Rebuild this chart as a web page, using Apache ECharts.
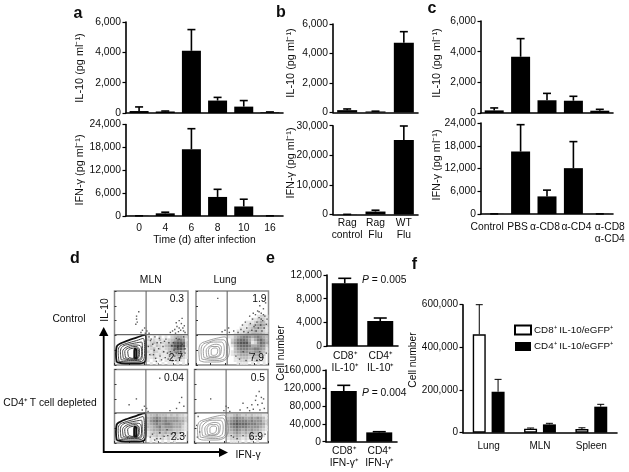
<!DOCTYPE html>
<html><head><meta charset="utf-8">
<style>html,body{margin:0;padding:0;background:#fff}#c{width:629px;height:472px}</style>
<script src="https://cdn.jsdelivr.net/npm/echarts@6/dist/echarts.min.js"></script>
</head><body><div id="c"></div>
<script>
// ---- data ----
const timeCats = ['0','4','6','8','10','16'];
const aIl10 = [130,100,4100,820,420,40];
const aIl10Top = [400,130,5500,1030,820,70];
const aIfn = [50,700,17500,5000,2500,30];
const aIfnTop = [50,1000,22900,7000,4400,50];
const bCats = ['Rag\ncontrol','Rag\nFlu','WT\nFlu'];
const bIl10 = [160,70,4730];
const bIl10Top = [240,90,5480];
const bIfn = [50,1000,25150];
const bIfnTop = [50,1450,29900];
const cCats = ['Control','PBS','α-CD8','α-CD4','α-CD8\nα-CD4'];
const cLabelPadLeft = [0,0,0,6,20];
const cLabelPadRight = [14,6,4,0,0];
const cIl10 = [170,3670,830,800,150];
const cIl10Top = [330,4850,1280,1090,240];
const cIfn = [30,16470,4640,12090,30];
const cIfnTop = [30,23560,6300,19090,30];
const eTopCats = ['CD8⁺\nIL-10⁺','CD4⁺\nIL-10⁺'];
const eTop = [10590,4225];
const eTopErr = [11440,4730];
const eBotCats = ['CD8⁺\nIFN-γ⁺','CD4⁺\nIFN-γ⁺'];
const eBot = [113100,20800];
const eBotErr = [125800,22300];
const fCats = ['Lung','MLN','Spleen'];
const fCd8 = [461000,19000,17000];
const fCd8Top = [600000,22000,23000];
const fCd4 = [192000,39000,122000];
const fCd4Top = [250000,44000,133000];
const fNames = ['CD8⁺ IL-10/eGFP⁺','CD4⁺ IL-10/eGFP⁺'];
const gateMln = [43,41];
const gateLung = [43,41];
// flow panels: x,y in percent of the panel
const mlnRing1 = [[3,4],[2,15],[3,25],[8,29],[18,33],[30,37],[42,41],[43,30],[43,15],[41,4],[30,2],[15,2],[3,4]];
const mlnRing2 = [[6,5],[5,17],[7,25],[16,29],[30,33],[39,36],[41,20],[39,6],[25,4],[6,5]];
const mlnRing3 = [[9,7],[8,18],[11,25],[20,28],[30,30],[37,31],[38,18],[36,7],[24,6],[9,7]];
const mlnRing4 = [[12,9],[11,18],[16,24],[28,27],[36,25],[37,15],[34,8],[22,7],[12,9]];
const mlnRing5 = [[15,10],[14,18],[19,23],[29,25],[34,20],[33,10],[23,8],[15,10]];
const mlnRing6 = [[19,11],[18,18],[22,22],[30,23],[33,16],[31,10],[24,9],[19,11]];
const mlnCore = [[27,9],[27,18],[28,22],[30,20],[30,9],[27,9]];
const lungRing1 = [[5,6],[4,18],[6,28],[14,32],[28,36],[40,38],[44,30],[46,20],[42,8],[28,4],[12,4],[5,6]];
const lungRing2 = [[8,8],[7,18],[9,27],[18,31],[30,34],[38,34],[42,26],[42,16],[39,8],[25,6],[8,8]];
const lungRing3 = [[11,10],[10,18],[13,26],[24,31],[35,31],[39,22],[36,10],[22,8],[11,10]];
const lungRing4 = [[15,11],[14,19],[18,25],[28,28],[35,24],[33,13],[22,10],[15,11]];
const lungRing5 = [[18,12],[17,19],[22,25],[30,25],[33,19],[31,13],[23,11],[18,12]];
const lungRing6 = [[21,14],[21,20],[26,23],[30,21],[29,15],[24,13],[21,14]];
const mlnCtrlDots = [[88,60],[91,56],[85,52],[93,50],[82,48],[90,47],[95,53],[87,45],[84,57],[92,63],[79,46],[96,44],[88,50],[76,44],[83,43],[94,46],[30,62],[30,66],[31,58],[29,55],[41,50],[38,47],[44,46],[36,44],[42,43],[47,43],[33,72],[50,35],[54,20],[58,30],[62,12],[66,25],[70,35],[73,8],[76,18],[80,30],[82,12],[86,24],[88,35],[90,18],[92,28],[94,38],[96,22],[84,36],[78,26],[72,16],[68,32],[64,7],[60,22],[56,9],[52,28],[48,14],[47,38],[55,38],[61,36],[67,18],[74,30],[81,20],[46,25],[49,33],[53,14],[57,5],[63,30],[69,10],[75,12],[79,6],[84,16],[88,10],[92,12],[96,16]];
const lungCtrlDots = [[52,46],[58,44],[62,48],[66,45],[70,50],[72,44],[75,56],[77,47],[78,62],[80,52],[82,68],[83,46],[84,58],[85,73],[86,50],[87,64],[88,80],[89,54],[90,70],[91,46],[92,60],[93,76],[94,50],[95,66],[96,84],[97,55],[98,62],[79,70],[74,66],[68,58],[64,54],[90,62],[87,72],[93,68],[82,54],[30,90],[40,47],[46,44],[36,45],[45,50],[55,12],[60,8],[65,18],[69,6],[74,16],[78,10],[84,6],[88,18],[92,10],[97,16]];
const mlnDepDots = [[30,60],[44,47],[41,50],[38,45],[46,43],[89,55],[92,62],[85,47],[95,50],[62,88],[20,52],[76,44],[52,12],[58,6],[62,14],[68,9],[72,18],[78,12],[84,7],[90,14],[97,10],[49,8],[55,4],[63,6],[73,10],[83,14],[91,10]];
const lungDepDots = [[88,70],[91,62],[83,58],[78,52],[86,52],[92,54],[95,47],[72,48],[80,46],[89,45],[66,54],[75,44],[84,64],[62,45],[94,60],[22,60],[46,48],[43,50],[40,44],[48,43],[5,36],[3,24],[7,15],[4,8],[50,10],[58,6],[66,10],[76,6],[84,9],[96,12],[89,8],[53,8]];
// density of events, one string per 4% band, top band first, one digit per 4% column from x = 44%
const mlnCtrlDensity = ["10102010234432","21213112346651","12321223478872","23132134689982","12312123478861","21321213456541","12212112334431","11211112223321","10101011212110","01010101101010"];
const lungCtrlDensity = ["00000000001221","00000000112321","00000011123431","00000112234542","00001112344431","00011223343321","00112233444432","11345665456543","02467764246753","03578885125764","01467776445652","00356665566541","01345554455431","01234443344320","00123332233210","00112221122110","00011110101010"];
const mlnDepDensity = ["23343332323221","34565454444332","35676565555442","34565566544431","33456455544421","23445444433321","12334343323210","12232322222110","01121212111100","01010101010000"];
const lungDepDensity = ["22343232322211","34565544545431","45676665655532","46787776665542","35676665555431","34565454544321","33454343433210","22343232322110","12232121211100","01111010101000"];

const font = '"Liberation Sans", Arial, sans-serif';
const ink = '#0d0d0d';
const fs = 10.3;

const grids=[], xAxes=[], yAxes=[], series=[];
function panel(box, cats, max, interval, vals, tops, opt={}) {
  const i = grids.length;
  grids.push({left:box[0],top:box[1],width:box[2],height:box[3]});
  xAxes.push({gridIndex:i,type:'category',data:cats,boundaryGap:true,
    name:opt.xName||'',nameLocation:'middle',nameGap:opt.xNameGap||0,
    nameTextStyle:{fontFamily:font,fontSize:fs,color:ink},
    axisLine:{lineStyle:{color:'#000',width:1.6}},
    axisTick:{alignWithLabel:true,length:2.5,lineStyle:{color:'#000',width:1.2}},
    axisLabel:{show:opt.labels!==false,interval:0,fontFamily:font,fontSize:opt.fs||fs,color:ink,margin:opt.margin||6,lineHeight:opt.lh||12,hideOverlap:false}});
  yAxes.push({gridIndex:i,type:'value',min:0,max:max,interval:interval,
    axisLine:{show:true,lineStyle:{color:'#000',width:1.6}},
    axisTick:{show:true,length:3.5,lineStyle:{color:'#000',width:1.2}},
    splitLine:{show:false},
    axisLabel:{fontFamily:font,fontSize:opt.fs||fs,color:ink,margin:5}});
  if (vals) addBars(i, vals, tops, opt.barWidth||19, opt.cap||4, 0, '#000');
  return i;
}
function addBars(i, vals, tops, w, cap, offset, fill, name, eWidth) {
  series.push({type:'bar',name:name,xAxisIndex:i,yAxisIndex:i,data:vals,barWidth:w,barGap:'45%',silent:true,
    itemStyle:{color:fill,borderColor:'#000',borderWidth:fill==='#000'?0:1.4},z:3});
  series.push({type:'custom',xAxisIndex:i,yAxisIndex:i,silent:true,z:2,
    data:vals.map((v,k)=>[k,tops[k],v]),encode:{x:0,y:[1,2]},
    renderItem:(p,api)=>{
      const t=api.coord([api.value(0),api.value(1)]), b=api.coord([api.value(0),api.value(2)]);
      const x=t[0]+offset, st={stroke:'#000',lineWidth:eWidth||1.6};
      return {type:'group',children:[
        {type:'line',shape:{x1:x,y1:b[1],x2:x,y2:t[1]},style:st},
        {type:'line',shape:{x1:x-cap,y1:t[1],x2:x+cap,y2:t[1]},style:st}]};
    }});
}
const cLabelled = cCats.map((c,k)=>({value:c,textStyle:{padding:[0,cLabelPadRight[k],0,cLabelPadLeft[k]]}}));
panel([126,22,157,91],timeCats,6000,2000,aIl10,aIl10Top,{labels:false});
panel([126,124.5,157,91.5],timeCats,24000,6000,aIfn,aIfnTop,{xName:'Time (d) after infection',xNameGap:17,margin:6});
panel([333,24,85,88.5],bCats,6000,2000,bIl10,bIl10Top,{barWidth:20,labels:false});
panel([333,125.7,85,88.8],bCats,30000,10000,bIfn,bIfnTop,{barWidth:20,margin:3});
panel([481,21,132,92],cCats,6000,2000,cIl10,cIl10Top,{labels:false});
panel([481,123,132,91],cLabelled,24000,6000,cIfn,cIfnTop,{margin:7});
panel([327,275,71,71],eTopCats,12000,4000,eTop,eTopErr,{barWidth:26,cap:6.5,margin:4});
panel([326,370,71,71.7],eBotCats,160000,40000,eBot,eBotErr,{barWidth:26,cap:6.5,margin:3});
const fi = panel([463,304.7,154,128],fCats,600000,200000,null,null,{fs:10,margin:8});
addBars(fi,fCd8,fCd8Top,13,3.5,-9.4,'#fff',fNames[0],1);
addBars(fi,fCd4,fCd4Top,13,3.5,9.4,'#000',fNames[1],1);

function flow(box, gate, dots, density, rings, ringColor, thick) {
  const i = grids.length;
  grids.push({left:box[0],top:box[1],width:box[2],height:box[3],show:true,borderColor:'#8a8a8a',borderWidth:1.5,backgroundColor:'#fff'});
  const ax={gridIndex:i,type:'value',min:0,max:100,interval:20,
    axisLine:{show:false},axisLabel:{show:false},splitLine:{show:false},
    axisTick:{show:true,inside:true,length:2,lineStyle:{color:'#333',width:1}}};
  xAxes.push(ax); yAxes.push({...ax});
  const cells=[];
  density.forEach((row,r)=>row.split('').forEach((d,c)=>{ if(+d>0) cells.push([46+c*4,(density.length-r)*4-2,+d]); }));
  series.push({type:'scatter',xAxisIndex:i,yAxisIndex:i,silent:true,z:2,data:cells,symbol:'rect',symbolSize:2.9,
    itemStyle:{color:(p)=>{const g=250-p.value[2]*26; return `rgb(${g},${g},${g})`;}}});
  series.push({type:'scatter',xAxisIndex:i,yAxisIndex:i,silent:true,z:3,data:dots,symbol:'rect',symbolSize:1.4,
    itemStyle:{color:'#333'}});
  rings.forEach((r,k)=>series.push({type:'line',xAxisIndex:i,yAxisIndex:i,silent:true,z:4,data:r,smooth:0.4,symbol:'none',
    lineStyle:{color:k===0&&thick?'#111':ringColor,width:k===0&&thick?1.8:(thick?1:0.8)}}));
  if (thick) series.push({type:'line',xAxisIndex:i,yAxisIndex:i,silent:true,z:4,data:mlnCore,smooth:0.4,symbol:'none',lineStyle:{color:'#111',width:2}});
  series.push({type:'line',xAxisIndex:i,yAxisIndex:i,silent:true,z:5,data:[[gate[0],0],[gate[0],100]],symbol:'none',lineStyle:{color:'#666',width:1.1}});
  series.push({type:'line',xAxisIndex:i,yAxisIndex:i,silent:true,z:5,data:[[0,gate[1]],[100,gate[1]]],symbol:'none',lineStyle:{color:'#666',width:1.1}});
}
const mlnR=[mlnRing1,mlnRing2,mlnRing3,mlnRing4,mlnRing5,mlnRing6], lungR=[lungRing1,lungRing2,lungRing3,lungRing4,lungRing5,lungRing6];
flow([114.5,291,73.5,74],gateMln,mlnCtrlDots,mlnCtrlDensity,mlnR,'#444',true);
flow([196,291,72.5,74],gateLung,lungCtrlDots,lungCtrlDensity,lungR,'#888',false);
flow([114.5,369.5,73,73.5],gateMln,mlnDepDots,mlnDepDensity,mlnR,'#444',true);
flow([194.5,369.5,73.5,73.5],gateLung,lungDepDots,lungDepDensity,lungR,'#888',false);

const T=(text,x,y,o={})=>({type:'text',x,y,rotation:o.rot||0,z:20,silent:true,style:{text,fontFamily:font,fontSize:o.fs||fs,
  fill:ink,fontWeight:o.w||'normal',align:o.align||'center',verticalAlign:'middle',rich:o.rich}});
const R90=Math.PI/2, ylab=10.9;
const pRich={i:{fontStyle:'italic',fontFamily:font,fontSize:fs,fill:ink}};
const gfx=[
  T('a',78,14,{fs:16,w:'bold'}),T('b',281,13,{fs:16,w:'bold'}),T('c',432,9,{fs:16,w:'bold'}),
  T('d',75,259,{fs:16,w:'bold'}),T('e',270.5,259,{fs:16,w:'bold'}),T('f',414.5,265,{fs:16,w:'bold'}),
  T('IL-10 (pg ml⁻¹)',80,68,{rot:R90,fs:ylab}),T('IFN-γ (pg ml⁻¹)',80,170,{rot:R90,fs:ylab}),
  T('IL-10 (pg ml⁻¹)',291,63,{rot:R90,fs:ylab}),T('IFN-γ (pg ml⁻¹)',291,163,{rot:R90,fs:ylab}),
  T('IL-10 (pg ml⁻¹)',436.5,63,{rot:R90,fs:ylab}),T('IFN-γ (pg ml⁻¹)',436.5,165,{rot:R90,fs:ylab}),
  T('Cell number',281.5,353,{rot:R90}),T('Cell number',412.7,360,{rot:R90}),
  T('{i|P} = 0.005',362,280,{align:'left',rich:pRich}),T('{i|P} = 0.004',362,393,{align:'left',rich:pRich}),
  T('MLN',150.7,280),T('Lung',225,280),
  T('Control',69,319),T('CD4⁺ T cell depleted',50,402.7),
  T('IL-10',104.7,310,{rot:R90}),T('IFN-γ',248,455),
  T('0.3',184,299,{align:'right'}),T('2.7',183,358,{align:'right'}),
  T('1.9',266.5,299,{align:'right'}),T('7.9',264,358,{align:'right'}),
  T('0.04',184,377.7,{align:'right'}),T('2.3',185,436.7,{align:'right'}),
  T('0.5',265,377.7,{align:'right'}),T('6.9',263,436.7,{align:'right'}),
  {type:'polyline',z:19,silent:true,shape:{points:[[103.7,334],[103.7,452],[220,452]]},style:{stroke:'#000',lineWidth:1.8,fill:null}},
  {type:'polygon',z:19,silent:true,shape:{points:[[103.7,327],[99,336],[108.4,336]]},style:{fill:'#000'}},
  {type:'polygon',z:19,silent:true,shape:{points:[[228,452.5],[219,448],[219,457]]},style:{fill:'#000'}}
];

const chart=echarts.init(document.getElementById('c'),null,{renderer:'canvas'});
chart.setOption({animation:false,backgroundColor:'#fff',grid:grids,xAxis:xAxes,yAxis:yAxes,series,graphic:gfx,
  legend:{data:fNames,orient:'vertical',left:509,top:319.5,itemWidth:16,itemHeight:9,itemGap:6,selectedMode:false,
    textStyle:{fontFamily:font,fontSize:9.8,color:ink,padding:[0,0,0,-2]},icon:'rect'}
});
</script></body></html>
